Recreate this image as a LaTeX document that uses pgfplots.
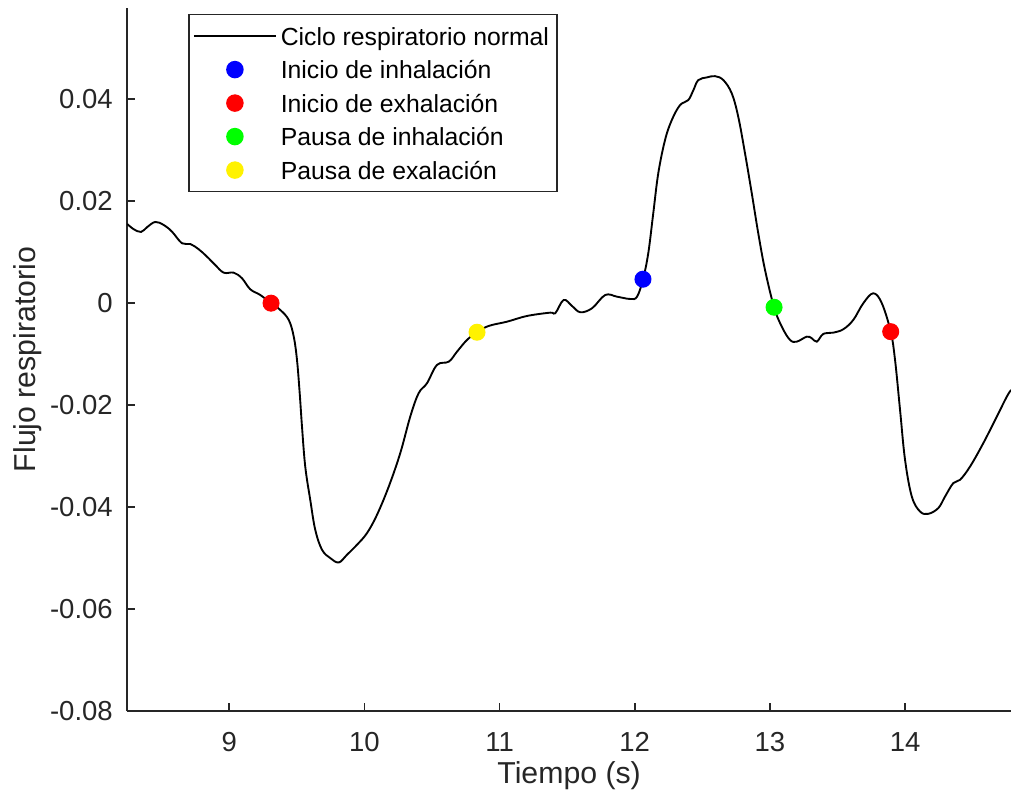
\documentclass[border=0pt]{standalone}
\usepackage{fontspec}
\setmainfont{Liberation Sans}
\usepackage{pgfplots}
\pgfplotsset{compat=1.18}
\definecolor{axgray}{gray}{0.15}
\definecolor{lgbox}{gray}{0.15}

\begin{document}
\begin{tikzpicture}
\useasboundingbox (-50.9pt,-35.2pt) rectangle (353.5pt,284.4pt);
\begin{axis}[
  scale only axis, width=353.5pt, height=281.2pt,
  xmin=8.245, xmax=14.784, ymin=-0.08, ymax=0.0579,
  enlargelimits=false,
  axis x line=bottom, axis y line=left,
  axis line style={-, draw=axgray, line width=0.7pt},
  tick align=inside, major tick length=3.2pt,
  tick style={draw=axgray, line width=0.7pt},
  xtick={9,10,11,12,13,14}, xticklabels={9,10,11,12,13,14},
  ytick={-0.08,-0.06,-0.04,-0.02,0,0.02,0.04},
  yticklabels={-0.08,-0.06,-0.04,-0.02,0,0.02,0.04},
  tick label style={font=\fontsize{11}{13}\selectfont, text=axgray},
  yticklabel style={inner sep=0pt, xshift=-5.6pt, anchor=east},
  xticklabel style={inner sep=0pt, yshift=-8.4pt, anchor=north},
  xlabel={Tiempo (s)}, ylabel={Flujo respiratorio},
  label style={font=\fontsize{12.1}{14}\selectfont, text=axgray},
  xlabel style={at={(axis description cs:0.5,-0.1038)}, anchor=base},
  ylabel style={at={(axis description cs:-0.1123,0.5)}, anchor=center},
  legend image code/.code={\draw[mark repeat=2,mark phase=2,#1] plot coordinates {(0.6pt,0pt) (17pt,0pt) (33.4pt,0pt)};},
  legend style={at={(axis description cs:0.069,0.9915)}, anchor=north west,
    draw=lgbox, line width=0.6pt, fill=white, inner xsep=1.6pt, inner ysep=1.85pt,
    row sep=0pt,
    font=\fontsize{9.9}{11}\selectfont,
    nodes={inner xsep=1.6pt, inner ysep=0pt, text height=10.3pt, text depth=3.1pt, text=black}},
  legend cell align=left,
]
\addplot[black, line width=0.75pt, smooth, tension=0.6] coordinates {
(8.245,0.01553) (8.293,0.01450) (8.347,0.01397) (8.391,0.01489) (8.452,0.01593)
(8.515,0.01534) (8.576,0.01403) (8.650,0.01175) (8.711,0.01161) (8.774,0.01057)
(8.835,0.00912) (8.896,0.00749) (8.959,0.00598) (9.033,0.00598) (9.094,0.00488)
(9.155,0.00273) (9.229,0.00161) (9.309,0.00000) (9.377,-0.00133) (9.440,-0.00329)
(9.477,-0.00657) (9.501,-0.01113) (9.521,-0.01766) (9.538,-0.02421) (9.562,-0.03205)
(9.599,-0.03857) (9.636,-0.04445) (9.686,-0.04837) (9.747,-0.05000) (9.810,-0.05086)
(9.871,-0.04935) (9.945,-0.04739) (10.019,-0.04510) (10.093,-0.04151) (10.180,-0.03597)
(10.265,-0.02942) (10.339,-0.02225) (10.401,-0.01766) (10.463,-0.01570) (10.537,-0.01211)
(10.624,-0.01147) (10.685,-0.00951) (10.759,-0.00721) (10.833,-0.00570) (10.919,-0.00447)
(11.055,-0.00363) (11.203,-0.00251) (11.375,-0.00186) (11.412,-0.00198) (11.474,0.00063)
(11.536,-0.00055) (11.597,-0.00178) (11.684,-0.00100) (11.782,0.00161) (11.869,0.00127)
(11.967,0.00082) (12.017,0.00127) (12.061,0.00470) (12.100,0.00978) (12.137,0.01762)
(12.174,0.02546) (12.224,0.03199) (12.274,0.03591) (12.335,0.03885) (12.396,0.03983)
(12.434,0.04179) (12.470,0.04375) (12.533,0.04428) (12.594,0.04453) (12.656,0.04375)
(12.718,0.04114) (12.766,0.03655) (12.816,0.02938) (12.866,0.02154) (12.914,0.01370)
(12.964,0.00651) (13.031,-0.00080) (13.088,-0.00461) (13.149,-0.00721) (13.199,-0.00755)
(13.273,-0.00657) (13.310,-0.00688) (13.347,-0.00755) (13.395,-0.00604) (13.469,-0.00578)
(13.543,-0.00512) (13.617,-0.00329) (13.691,-0.00002) (13.765,0.00194) (13.828,0.00000)
(13.894,-0.00559) (13.926,-0.01113) (13.963,-0.02093) (14.000,-0.03073) (14.050,-0.03793)
(14.111,-0.04087) (14.172,-0.04132) (14.246,-0.04020) (14.296,-0.03793) (14.357,-0.03530)
(14.407,-0.03465) (14.481,-0.03205) (14.579,-0.02746) (14.679,-0.02225) (14.753,-0.01833)
(14.785,-0.01701)
};
\addlegendentry{Ciclo respiratorio normal}
\addplot[only marks, mark=*, mark size=3.2pt, draw=blue, fill=blue] coordinates {(12.061,0.00470)};
\addlegendentry{Inicio de inhalación}
\addplot[only marks, mark=*, mark size=3.2pt, draw=red, fill=red] coordinates {(9.309,0.00000) (13.894,-0.00559)};
\addlegendentry{Inicio de exhalación}
\addplot[only marks, mark=*, mark size=3.2pt, draw=green, fill=green] coordinates {(13.031,-0.00080)};
\addlegendentry{Pausa de inhalación}
\addplot[only marks, mark=*, mark size=3.2pt, draw=yellow, fill=yellow] coordinates {(10.833,-0.00570)};
\addlegendentry{Pausa de exalación}
\end{axis}
\end{tikzpicture}
\end{document}
